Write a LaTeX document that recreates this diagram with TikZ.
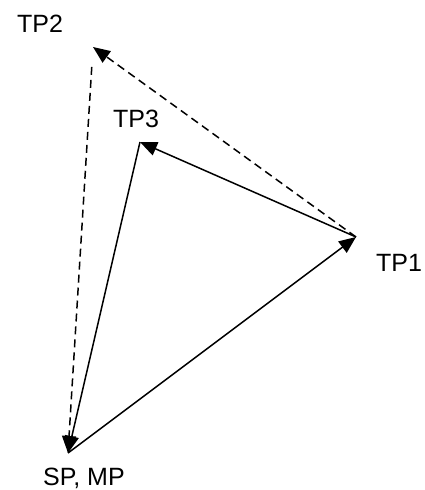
\documentclass[tikz,border=0pt]{standalone}
\usepackage{fontspec}
\setmainfont{Liberation Sans}
\usetikzlibrary{arrows.meta}
\begin{document}
\begin{tikzpicture}[x=1pt,y=1pt,
  conn/.style={line width=1.5pt,-{Triangle[length=17pt,width=14pt]}},
  dconn/.style={conn,dash pattern=on 8pt off 5pt},
  lbl/.style={font=\fontsize{25}{30}\selectfont,inner sep=0pt}]
\useasboundingbox (0,0) rectangle (425,490);
\coordinate (sp) at (68,37);
\coordinate (tp1) at (356,253);
\coordinate (tp2) at (93,443);
\coordinate (tp3) at (140,348);
\node[lbl] (lsp) at (84,12) {SP, MP};
\node[lbl] (ltp1) at (399,227) {TP1};
\node[lbl] (ltp2) at (40,466) {TP2};
\node[lbl] (ltp3) at (136,371) {TP3};
\draw[conn] (sp) -- (tp1);
\draw[conn] (tp1) -- (tp3);
\draw[conn] (tp3) -- (sp);
\draw[dconn] (tp1) -- (tp2);
\draw[dconn,shorten <=20pt] (tp2) -- (sp);
\end{tikzpicture}
\end{document}
